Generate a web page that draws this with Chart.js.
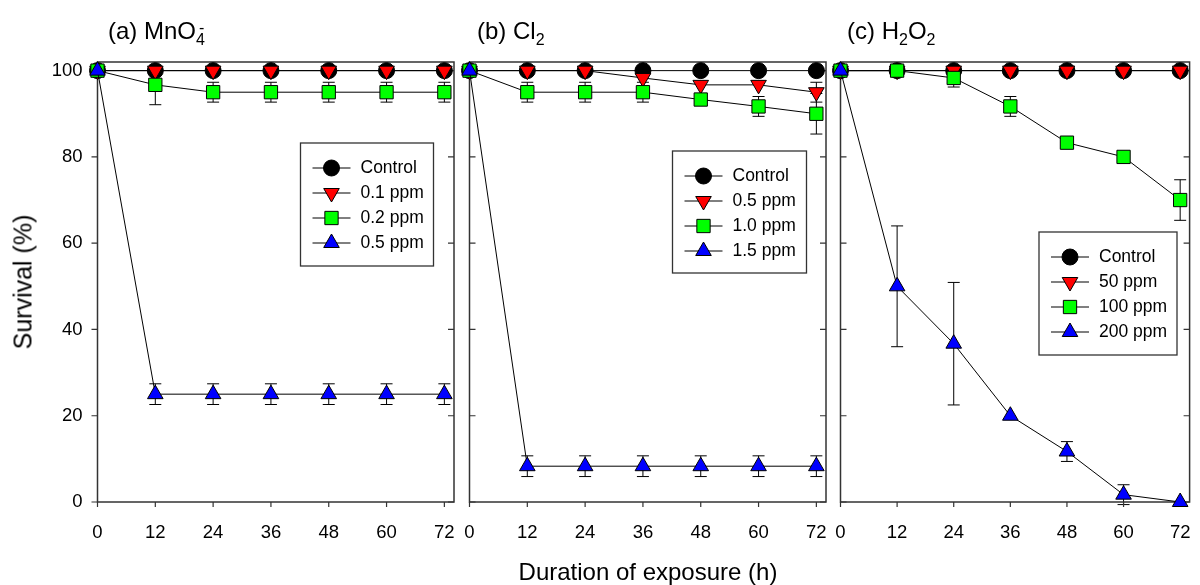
<!DOCTYPE html>
<html>
<head>
<meta charset="utf-8">
<title>Survival vs duration of exposure</title>
<script src="https://cdn.jsdelivr.net/npm/chart.js@4.4.1/dist/chart.umd.min.js"></script>
<style>
  body { margin: 0; background: #fff; }
  #wrap { position: relative; width: 1200px; height: 585px; overflow: hidden;
          font-family: 'Liberation Sans', Arial, sans-serif; color: #000; background: #fff; }
  #wrap canvas { position: absolute; left: 0; top: 0; }
  .ptitle { position: absolute; top: 19px; font-size: 24px; line-height: 24px; white-space: nowrap; }
  .ptitle sub, .ptitle sup { font-size: 16px; line-height: 0; }
  .ptitle sub { vertical-align: -6px; }
  .ptitle sup { vertical-align: 6px; }
  #xtitle { position: absolute; left: 0; width: 1296px; top: 560px; text-align: center;
            font-size: 24px; line-height: 24px; }
  #ytitle { position: absolute; left: 23px; top: 282px; font-size: 25px; line-height: 25px;
            white-space: nowrap; transform: translate(-50%, -50%) rotate(-90deg); }
</style>
</head>
<body>
<div id="wrap">
  <canvas id="chart-a" width="1200" height="585"></canvas>
  <canvas id="chart-b" width="1200" height="585"></canvas>
  <canvas id="chart-c" width="1200" height="585"></canvas>
  <div class="ptitle" style="left:108px">(a) MnO<sub>4</sub><sup style="margin-left:-6px">-</sup></div>
  <div class="ptitle" style="left:477px">(b) Cl<sub>2</sub></div>
  <div class="ptitle" style="left:847px">(c) H<sub>2</sub>O<sub>2</sub></div>
  <div id="ytitle">Survival (%)</div>
  <div id="xtitle">Duration of exposure (h)</div>
</div>
<script>
'use strict';

// ******** DATA ********

const hours = [0, 12, 24, 36, 48, 60, 72];
const yTicks = [0, 20, 40, 60, 80, 100];

// (a) MnO4-
const mnLabels = ['Control', '0.1 ppm', '0.2 ppm', '0.5 ppm'];
const mnControl = [100, 100, 100, 100, 100, 100, 100];
const mn01 = [100, 100, 100, 100, 100, 100, 100];
const mn02 = [100, 96.7, 95, 95, 95, 95, 95];
const mn05 = [100, 25, 25, 25, 25, 25, 25];
const mn02Err = [0, 4.6, 2.3, 2.3, 2.3, 2.3, 2.3];
const mn05Err = [0, 2.4, 2.4, 2.4, 2.4, 2.4, 2.4];

// (b) Cl2
const clLabels = ['Control', '0.5 ppm', '1.0 ppm', '1.5 ppm'];
const clControl = [100, 100, 100, 100, 100, 100, 100];
const cl05 = [100, 100, 100, 98.3, 96.7, 96.7, 95];
const cl10 = [100, 95, 95, 95, 93.3, 91.7, 90];
const cl15 = [100, 8.3, 8.3, 8.3, 8.3, 8.3, 8.3];
const cl05Err = [0, 0, 0, 0, 0, 0, 2.3];
const cl10Err = [0, 2.3, 2.3, 2.3, 0, 2.3, 4.7];
const cl15Err = [0, 2.4, 2.4, 2.4, 2.4, 2.4, 2.4];

// (c) H2O2
const hpLabels = ['Control', '50 ppm', '100 ppm', '200 ppm'];
const hpControl = [100, 100, 100, 100, 100, 100, 100];
const hp50 = [100, 100, 100, 100, 100, 100, 100];
const hp100 = [100, 100, 98.3, 91.7, 83.3, 80, 70];
const hp200 = [100, 50, 36.7, 20, 11.7, 1.7, 0];
const hp100Err = [0, 0, 2.1, 2.3, 0, 0, 4.7];
const hp200Err = [0, 14, 14.2, 0, 2.3, 2.3, 0];
const noErr = [0, 0, 0, 0, 0, 0, 0];

// ******** STYLES ********

const seriesColors = ['#000000', '#ff0000', '#00ff00', '#0000ff'];
const seriesShapes = ['circle', 'triangle', 'rect', 'triangle'];
const seriesRotation = [0, 180, 0, 0];
const seriesRadius = [8, 9, 9.4, 9];
const fontFamily = "'Liberation Sans', Arial, sans-serif";

// draws error bars, the box frame with its ticks, and the legend
function decoPlugin(panel) {
  return {
    id: 'deco',
    beforeDatasetsDraw(chart) {
      const ctx = chart.ctx;
      const area = chart.chartArea;
      const xs = chart.scales.x;
      const ys = chart.scales.y;
      ctx.save();

      // error bars
      ctx.strokeStyle = '#000';
      ctx.lineWidth = 1;
      panel.errors.forEach((errs, i) => {
        let vals = panel.series[i];
        errs.forEach((e, j) => {
          if (!e) return;
          let x = xs.getPixelForValue(hours[j]);
          let yTop = ys.getPixelForValue(vals[j] + e);
          let yBot = ys.getPixelForValue(vals[j] - e);
          ctx.beginPath();
          ctx.moveTo(x, yTop); ctx.lineTo(x, yBot);
          ctx.moveTo(x - 6, yTop); ctx.lineTo(x + 6, yTop);
          ctx.moveTo(x - 6, yBot); ctx.lineTo(x + 6, yBot);
          ctx.stroke();
        });
      });

      // frame
      ctx.strokeStyle = '#333';
      ctx.lineWidth = 1.5;
      ctx.strokeRect(area.left, area.top, area.right - area.left, area.bottom - area.top);

      // ticks
      ctx.lineWidth = 1.2;
      ctx.beginPath();
      yTicks.forEach(v => {
        let y = ys.getPixelForValue(v);
        if (panel.outerTicks) {
          ctx.moveTo(area.left - 6, y); ctx.lineTo(area.left, y);
        } else {
          ctx.moveTo(area.left, y); ctx.lineTo(area.left + 6, y);
        }
        ctx.moveTo(area.right - 6, y); ctx.lineTo(area.right, y);
      });
      hours.forEach(h => {
        let x = xs.getPixelForValue(h);
        ctx.moveTo(x, area.bottom); ctx.lineTo(x, area.bottom + 5);
      });
      ctx.stroke();
      ctx.restore();
    },
    afterDraw(chart) {
      const ctx = chart.ctx;
      const area = chart.chartArea;
      const lg = panel.legend;
      let bx = area.left + lg.dx;
      let by = area.top + lg.dy;
      ctx.save();
      ctx.fillStyle = '#fff';
      ctx.fillRect(bx, by, lg.w, lg.h);
      ctx.strokeStyle = '#333';
      ctx.lineWidth = 1.3;
      ctx.strokeRect(bx, by, lg.w, lg.h);

      panel.labels.forEach((label, i) => {
        let y = by + 25 + i * 25;
        ctx.strokeStyle = '#000';
        ctx.lineWidth = 1;
        ctx.beginPath();
        ctx.moveTo(bx + 12, y); ctx.lineTo(bx + 50, y);
        ctx.stroke();

        ctx.fillStyle = seriesColors[i];
        ctx.strokeStyle = '#000';
        ctx.lineWidth = 1;
        Chart.helpers.drawPoint(ctx, {
          pointStyle: seriesShapes[i],
          rotation: seriesRotation[i],
          radius: seriesRadius[i],
          borderWidth: 1
        }, bx + 31, y);

        ctx.fillStyle = '#000';
        ctx.font = '17.5px ' + fontFamily;
        ctx.textBaseline = 'middle';
        ctx.textAlign = 'left';
        ctx.fillText(label, bx + 60, y + 0.5);
      });
      ctx.restore();
    }
  };
}

function buildPanel(canvasId, box, panel) {
  let datasets = panel.series.map((vals, i) => ({
    label: panel.labels[i],
    data: vals.map((v, j) => ({ x: hours[j], y: v })),
    order: panel.series.length - i,
    showLine: true,
    fill: false,
    tension: 0,
    clip: false,
    borderColor: '#000',
    borderWidth: 1,
    pointStyle: seriesShapes[i],
    pointRotation: seriesRotation[i],
    pointRadius: seriesRadius[i],
    pointHoverRadius: seriesRadius[i],
    pointBackgroundColor: seriesColors[i],
    pointBorderColor: '#000',
    pointBorderWidth: 1
  }));

  // room for the y tick labels (only the first panel shows them)
  let yWidth = panel.outerTicks ? 70 : 0;

  let ctx = document.getElementById(canvasId);
  return new Chart(ctx, {
    type: 'line',
    data: { datasets: datasets },
    options: {
      responsive: false,
      animation: false,
      events: [],
      layout: { padding: { left: box.left - yWidth, right: 1200 - box.right, top: box.top, bottom: 0 } },
      plugins: { legend: { display: false }, tooltip: { enabled: false } },
      scales: {
        x: {
          type: 'linear',
          min: 0,
          max: 74,
          afterBuildTicks: s => { s.ticks = hours.map(v => ({ value: v })); },
          afterFit: s => { s.height = 585 - box.bottom; },
          grid: { display: false, drawTicks: true, tickLength: 20 },
          border: { display: false },
          ticks: { padding: 0, color: '#000', autoSkip: false, maxRotation: 0,
                   font: { family: fontFamily, size: 18.5 } }
        },
        y: {
          type: 'linear',
          min: 0,
          max: 102,
          afterBuildTicks: s => { s.ticks = yTicks.map(v => ({ value: v })); },
          afterFit: s => { s.width = yWidth; },
          grid: { display: false, drawTicks: false },
          border: { display: false },
          ticks: { display: panel.outerTicks, padding: 15, color: '#000',
                   font: { family: fontFamily, size: 18.5 } }
        }
      }
    },
    plugins: [decoPlugin(panel)]
  });
}

buildPanel('chart-a', { left: 97.5, right: 454, top: 62, bottom: 502 }, {
  labels: mnLabels,
  series: [mnControl, mn01, mn02, mn05],
  errors: [noErr, noErr, mn02Err, mn05Err],
  legend: { dx: 203, dy: 81, w: 133, h: 123 },
  outerTicks: true
});

buildPanel('chart-b', { left: 469.5, right: 826, top: 62, bottom: 502 }, {
  labels: clLabels,
  series: [clControl, cl05, cl10, cl15],
  errors: [noErr, cl05Err, cl10Err, cl15Err],
  legend: { dx: 203, dy: 89, w: 134, h: 122 },
  outerTicks: false
});

buildPanel('chart-c', { left: 840.5, right: 1196.5, top: 62, bottom: 502 }, {
  labels: hpLabels,
  series: [hpControl, hp50, hp100, hp200],
  errors: [noErr, noErr, hp100Err, hp200Err],
  legend: { dx: 198.5, dy: 170, w: 138, h: 123 },
  outerTicks: false
});
</script>
</body>
</html>
